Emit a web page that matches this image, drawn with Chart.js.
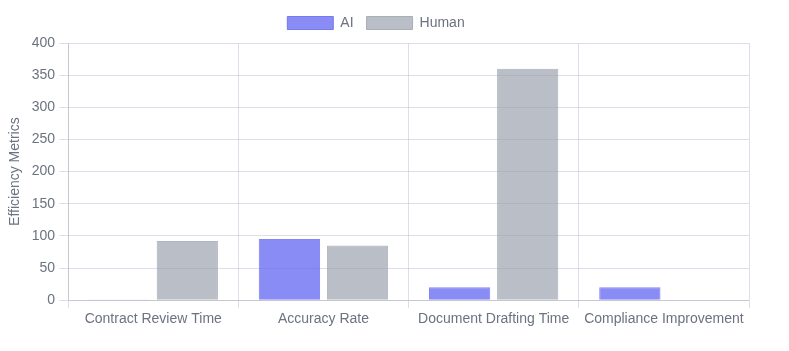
<!DOCTYPE html>
<html>
<head>
<meta charset="utf-8">
<script src="https://cdn.jsdelivr.net/npm/chart.js@4"></script>
<style>
	body { margin: 0; background: #fff; }
	#wrap { width: 789px; height: 351px; }
</style>
</head>
<body>
<div id="wrap"><canvas id="efficiencyChart"></canvas></div>
<script>
// values
const categories = ['Contract Review Time', 'Accuracy Rate', 'Document Drafting Time', 'Compliance Improvement'];
const aiValues = [1, 95, 20, 20];
const humanValues = [92, 85, 360, 0];
const yTicks = [0, 50, 100, 150, 200, 250, 300, 350, 400];

Chart.defaults.font.family = '"Liberation Sans", Arial, sans-serif';
Chart.defaults.color = '#6b7280';

// a bit more room under the legend
const legendGap = {
	id: 'legendGap',
	beforeInit: function(chart) {
		const fit = chart.legend.fit;
		chart.legend.fit = function() {
			fit.bind(chart.legend)();
			this.height += 3;
		};
	}
};

var ctx = document.getElementById('efficiencyChart');
new Chart(ctx, {
	type: 'bar',
	data: {
		labels: categories,
		datasets: [{
			label: 'AI',
			data: aiValues,
			backgroundColor: 'rgba(99, 102, 241, 0.75)',
			borderColor: 'rgba(99, 102, 241, 0.8)',
			borderWidth: 1
		},
		{
			label: 'Human',
			data: humanValues,
			backgroundColor: 'rgba(156, 163, 175, 0.7)',
			borderColor: 'rgba(156, 163, 175, 0.8)',
			borderWidth: 1
		}]
	},
	options: {
		responsive: true,
		maintainAspectRatio: false,
		animation: false,
		layout: { padding: { left: 3, right: 40, top: 3, bottom: 20 } },
		datasets: { bar: { categoryPercentage: 0.8, barPercentage: 0.9 } },
		plugins: {
			legend: {
				labels: { boxWidth: 46, boxHeight: 13, font: { size: 14 }, padding: 13 }
			}
		},
		scales: {
			x: {
				grid: { color: 'rgba(200, 200, 220, 0.6)', offset: true },
				ticks: { font: { size: 14 }, maxRotation: 0 }
			},
			y: {
				min: 0,
				max: 400,
				afterBuildTicks: function(axis) {
					axis.ticks = yTicks.map(v => ({ value: v }));
				},
				grid: { color: 'rgba(200, 200, 220, 0.6)', tickLength: 9 },
				ticks: { font: { size: 14 }, padding: 4 },
				title: { display: true, text: 'Efficiency Metrics', font: { size: 14 } }
			}
		}
	},
	plugins: [legendGap]
});
</script>
</body>
</html>
